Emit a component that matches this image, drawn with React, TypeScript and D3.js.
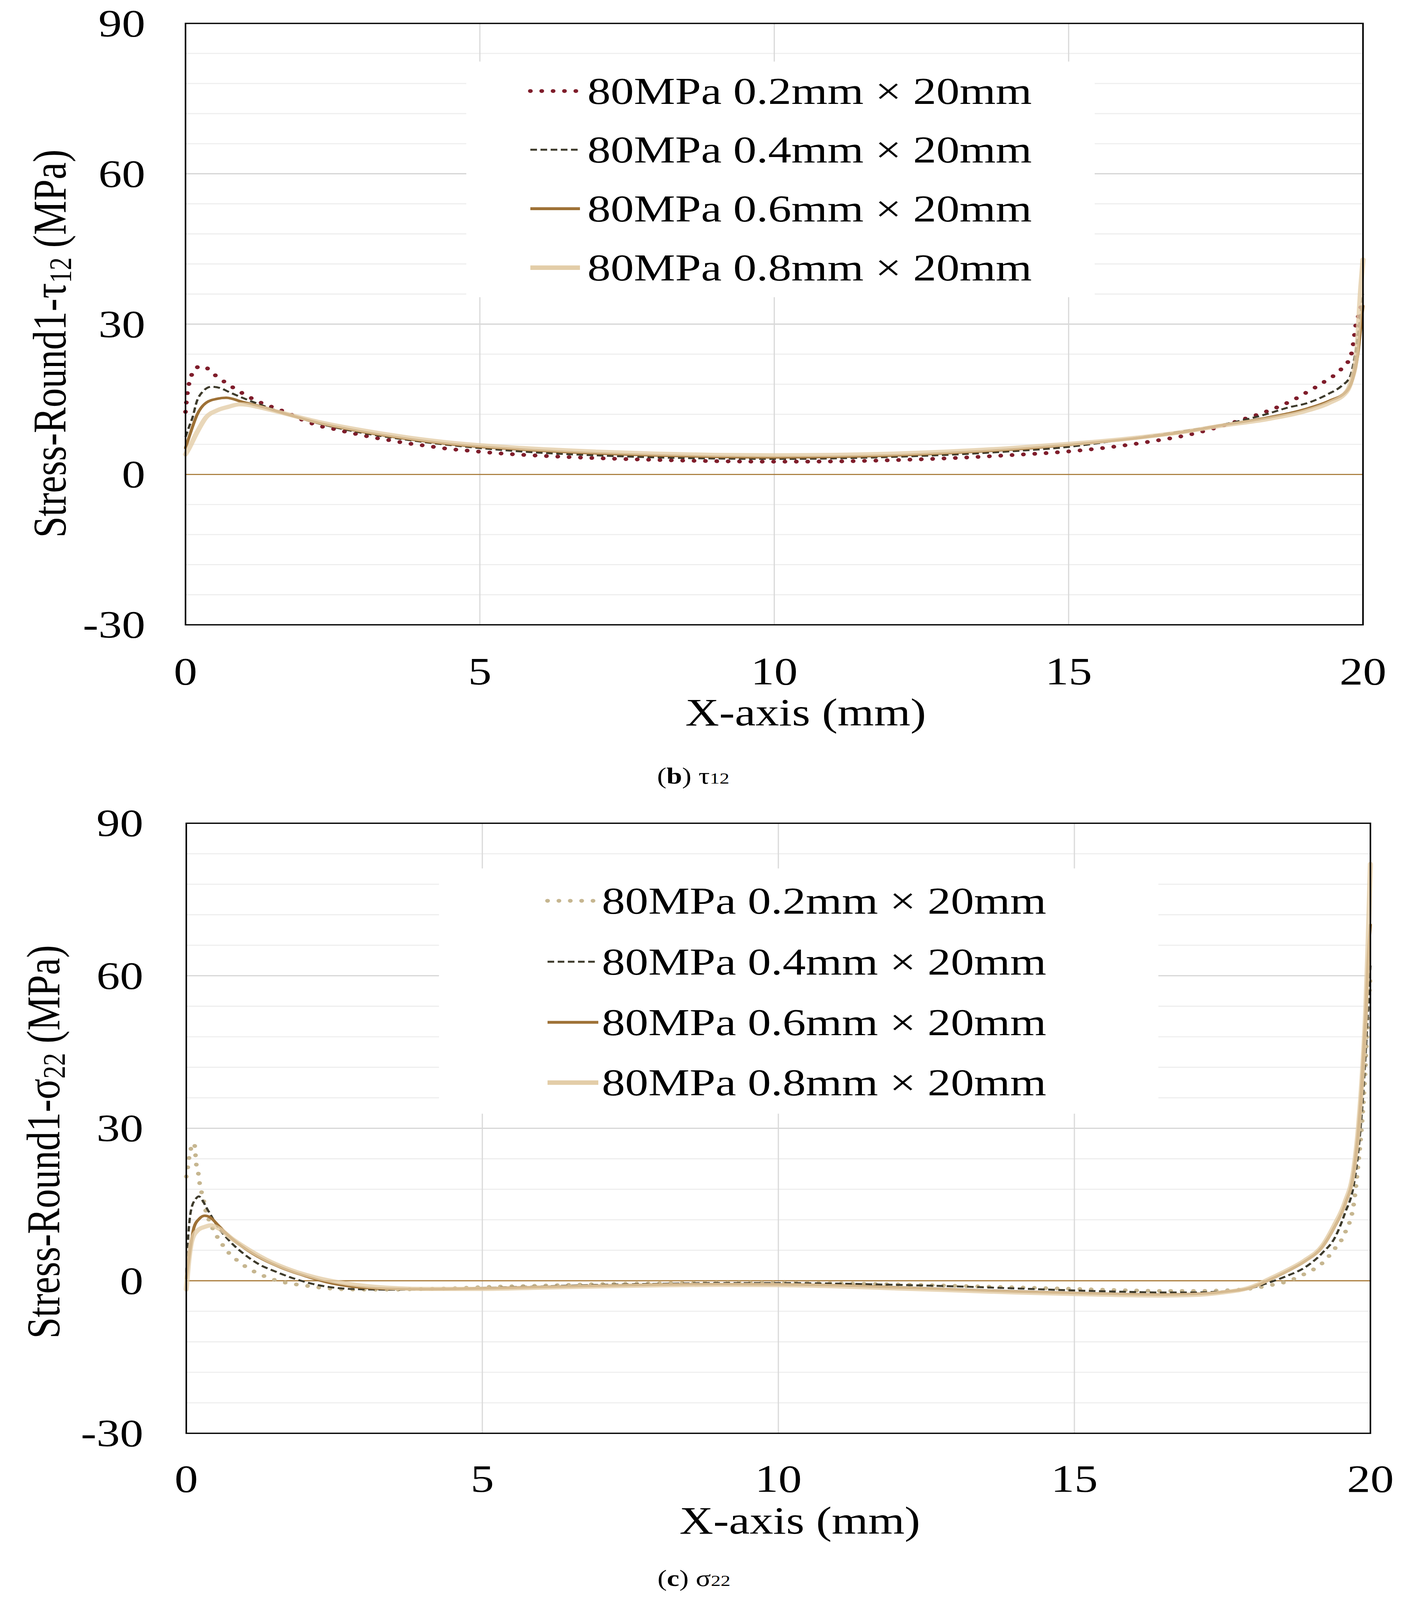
import React from 'react';
import * as d3 from 'd3';

type Pt = [number, number];

// ---------- Data: (b) tau12 ----------
const tau02: Pt[] = [
  [0, 12.5], [0.03, 16.0], [0.1, 19.7], [0.18, 21.3], [0.3, 21.6], [0.47, 20.1], [0.61, 18.9],
  [0.76, 17.7], [0.91, 16.6], [1.06, 15.6], [1.22, 14.6], [1.4, 13.8], [1.57, 13.0], [1.74, 12.3],
  [1.9, 11.3], [2.08, 10.5], [2.23, 9.8], [2.43, 9.3], [2.62, 8.8], [2.8, 8.3], [2.98, 7.9],
  [3.17, 7.4], [3.36, 7.05], [3.72, 6.3], [4.1, 5.7], [4.47, 5.1], [4.85, 4.7], [5.23, 4.3],
  [6, 3.75], [7, 3.25], [8, 2.9], [9, 2.65], [10, 2.55], [11, 2.6], [12, 2.85], [13, 3.25],
  [14, 3.85], [14.9, 4.5], [15.64, 5.35], [16.38, 6.55], [17.11, 8.1], [17.83, 10.5],
  [18.54, 13.4], [18.87, 15.2], [19.03, 16.3], [19.18, 17.3], [19.33, 18.4], [19.48, 19.5],
  [19.62, 20.9], [19.73, 22.2], [19.8, 23.9], [19.83, 25.7], [19.85, 27.4], [19.87, 29.3],
  [19.91, 31.1], [19.95, 32.9], [20, 34.7],
];
const tau04: Pt[] = [
  [0, 7.5], [0.06, 9.5], [0.12, 11.4], [0.19, 14.5], [0.29, 16.5], [0.44, 17.5], [0.6, 17.2],
  [0.73, 16.5], [1.03, 15.0], [1.3, 13.8], [1.7, 12.1], [2.25, 10.2], [3, 8.3], [3.77, 6.9],
  [4.54, 5.8], [5.2, 5.05], [6, 4.35], [7, 3.8], [8, 3.4], [9, 3.18], [10, 3.1], [11, 3.2],
  [12, 3.5], [13, 3.95], [14, 4.6], [15, 5.5], [15.9, 6.9], [16.76, 8.3], [17.64, 10.0],
  [18.38, 12.1], [18.71, 13.3], [19.07, 14.3], [19.4, 16.0], [19.64, 17.7], [19.78, 19.5],
  [19.88, 25], [19.95, 31], [20, 36],
];
const tau06: Pt[] = [
  [0, 5.3], [0.09, 8.5], [0.2, 12.0], [0.35, 14.3], [0.54, 15.1], [0.69, 15.3], [0.96, 14.5],
  [1.3, 13.5], [1.7, 12.1], [2.25, 10.3], [3.01, 8.5], [3.77, 7.1], [4.54, 6.0], [5.68, 5.0],
  [7, 4.2], [8, 3.8], [9, 3.52], [10, 3.42], [11, 3.52], [12, 3.8], [13, 4.3], [14, 4.95],
  [14.76, 5.65], [15.48, 6.4], [16.2, 7.3], [16.92, 8.4], [17.64, 9.9], [18.36, 11.3],
  [19.07, 13.2], [19.43, 14.7], [19.72, 16.6], [19.82, 18.9], [19.91, 23.8], [19.97, 30.3],
  [20, 33.6],
];
const tau08: Pt[] = [
  [0, 4.0], [0.04, 4.8], [0.2, 8.5], [0.35, 11.4], [0.54, 12.8], [0.73, 13.5], [0.92, 14.0],
  [1.05, 13.9], [1.22, 13.5], [1.57, 12.5], [2.25, 10.5], [3.01, 8.8], [3.77, 7.4], [4.54, 6.3],
  [5.68, 5.3], [7, 4.55], [8, 4.15], [9, 3.9], [10, 3.82], [11, 3.9], [12, 4.15], [13, 4.6],
  [14, 5.25], [14.76, 5.9], [15.48, 6.55], [16.2, 7.4], [16.92, 8.45], [17.64, 9.8],
  [18.36, 11.0], [19.07, 12.8], [19.43, 14.3], [19.72, 16.5], [19.8, 18.6], [19.89, 23.8],
  [19.96, 36.9], [20, 42.9],
];

// ---------- Data: (c) sigma22 ----------
const sig02: Pt[] = [
  [0, 20.5], [0.018, 21.6], [0.036, 23.4], [0.066, 25.2], [0.1, 27.0], [0.137, 26.9],
  [0.153, 25.1], [0.166, 23.2], [0.2, 21.4], [0.22, 19.6], [0.25, 17.8], [0.29, 16.0],
  [0.32, 14.2], [0.4, 11.5], [0.5, 9.1], [0.59, 7.45], [0.69, 5.85], [0.81, 4.5], [0.95, 3.2],
  [1.1, 2.1], [1.26, 1.2], [1.43, 0.4], [1.61, -0.2], [1.79, -0.6], [1.98, -0.9], [2.16, -1.2],
  [2.35, -1.45], [2.54, -1.6], [2.73, -1.7], [3.12, -1.75], [3.49, -1.75], [3.87, -1.65],
  [4.44, -1.5], [5, -1.25], [6, -0.95], [7, -0.65], [8, -0.5], [9, -0.4], [10, -0.4],
  [11, -0.5], [12, -0.7], [13, -1.0], [14, -1.3], [15, -1.6], [16, -1.9], [16.5, -2.0],
  [17, -2.0], [17.5, -1.9], [18, -1.5], [18.3, -0.9], [18.6, -0.1], [18.89, 1.35],
  [19.19, 3.5], [19.39, 6.2], [19.57, 9.4], [19.72, 15.2], [19.8, 23.6], [19.86, 31.3],
  [19.92, 42.9], [19.96, 52.5], [20, 60],
];
const sig04: Pt[] = [
  [0, 1.5], [0.04, 9.9], [0.086, 14.2], [0.16, 16.1], [0.21, 16.6], [0.28, 15.7], [0.34, 14.4],
  [0.41, 13.0], [0.54, 10.5], [0.72, 7.96], [0.96, 5.4], [1.22, 3.3], [1.51, 1.8], [1.84, 0.36],
  [2.19, -0.76], [2.6, -1.47], [3.05, -1.7], [3.5, -1.75], [4, -1.7], [5, -1.4], [6, -1.1],
  [7, -0.8], [8, -0.6], [9, -0.45], [10, -0.45], [11, -0.55], [12, -0.8], [13, -1.1],
  [14, -1.5], [15, -1.9], [16, -2.2], [16.5, -2.3], [17, -2.3], [17.5, -2.1], [18, -1.4],
  [18.3, -0.3], [18.6, 1.0], [18.89, 2.6], [19.19, 5.5], [19.4, 8.5], [19.57, 13.3],
  [19.72, 19], [19.8, 26], [19.86, 34], [19.92, 45], [20, 62],
];
const sig06: Pt[] = [
  [0, 0.5], [0.07, 6.6], [0.13, 10.5], [0.22, 12.2], [0.31, 12.8], [0.4, 12.5], [0.54, 10.9],
  [0.72, 8.8], [0.96, 6.6], [1.28, 4.3], [1.6, 2.6], [2.02, 0.9], [2.46, -0.5], [2.9, -1.27],
  [3.49, -1.6], [4, -1.65], [5, -1.5], [6, -1.2], [7, -0.95], [8, -0.75], [9, -0.65],
  [10, -0.7], [11, -0.9], [12, -1.3], [13, -1.7], [14, -2.1], [15, -2.4], [16, -2.65],
  [16.5, -2.7], [17, -2.6], [17.5, -2.2], [18, -1.3], [18.3, 0.2], [18.6, 1.9], [18.89, 3.8],
  [19.19, 6.7], [19.39, 10.5], [19.57, 15], [19.72, 21.5], [19.8, 30], [19.86, 39.5],
  [19.92, 52], [19.96, 63], [20, 70],
];
const sig08: Pt[] = [
  [0, -1.7], [0.04, 3.7], [0.096, 8.0], [0.19, 9.9], [0.31, 10.6], [0.42, 10.9], [0.54, 10.35],
  [0.78, 8.2], [1.07, 6.0], [1.43, 3.7], [1.78, 2.05], [2.19, 0.64], [2.6, -0.34], [3.19, -1.19],
  [4.08, -1.6], [5, -1.6], [6, -1.35], [7, -1.1], [8, -0.9], [9, -0.8], [10, -0.85], [11, -1.1],
  [12, -1.5], [13, -1.9], [14, -2.3], [15, -2.6], [16, -2.85], [16.5, -2.9], [17, -2.8],
  [17.5, -2.3], [18, -1.2], [18.3, 0.4], [18.6, 2.1], [18.89, 4.0], [19.19, 6.9], [19.39, 10.9],
  [19.57, 15.4], [19.72, 22], [19.8, 30.5], [19.86, 40], [19.92, 53], [19.96, 66], [20, 82],
];

const legendLabels = [
  '80MPa 0.2mm × 20mm',
  '80MPa 0.4mm × 20mm',
  '80MPa 0.6mm × 20mm',
  '80MPa 0.8mm × 20mm',
];
const xTicks = [0, 5, 10, 15, 20];
const yTicks = [-30, 0, 30, 60, 90];
const xDomain: [number, number] = [0, 20];
const yDomain: [number, number] = [-30, 90];

// ---------- Styles ----------
type Style = { color: string; width: number; dash?: string; cap?: 'round' | 'butt'; opacity?: number };
const DOT = '0.1 29';
const DASH = '17 9';
const tauStyles: Style[] = [
  { color: '#7f1d2b', width: 12, dash: DOT, cap: 'round' },
  { color: '#3d3a2b', width: 6, dash: DASH, cap: 'butt' },
  { color: '#9e7136', width: 8 },
  { color: '#e3cda8', width: 13, opacity: 0.8 },
];
const sigStyles: Style[] = [
  { color: '#c6b690', width: 12, dash: DOT, cap: 'round' },
  { color: '#3d3a2b', width: 6, dash: DASH, cap: 'butt' },
  { color: '#9e7136', width: 8 },
  { color: '#e3cda8', width: 13, opacity: 0.8 },
];

const FONT = "'Liberation Serif', 'Times New Roman', serif";

type Layout = {
  left: number; right: number; top: number; bottom: number;
  lg: { x0: number; x1: number; y0: number; y1: number; s0: number; s1: number; tx: number; rows: number[] };
  yTitle: [number, number]; xTitle: [number, number]; tickY: number; yTickX: number;
  caption: [number, number];
};

const topLayout: Layout = {
  left: 475, right: 3490, top: 73, bottom: 1949,
  lg: { x0: 1194, x1: 2803, y0: 192, y1: 927, s0: 1358, s1: 1485, tx: 1504, rows: [284, 467, 651, 835] },
  yTitle: [168, 1072], xTitle: [2063, 2263], tickY: 2135, yTickX: 372, caption: [1775, 2444],
};
const bottomLayout: Layout = {
  left: 477, right: 3509, top: 2568, bottom: 4471,
  lg: { x0: 1124, x1: 2966, y0: 2709, y1: 3474, s0: 1402, s1: 1532, tx: 1541, rows: [2810, 3000, 3189, 3377] },
  yTitle: [152, 3562], xTitle: [2048, 4784], tickY: 4654, yTickX: 367, caption: [1777, 4947],
};

function Panel({ L, series, styles, sym, sub, letter }: { L: Layout; series: Pt[][]; styles: Style[]; sym: string; sub: string; letter: string }) {
  const x = d3.scaleLinear().domain(xDomain).range([L.left, L.right]);
  const y = d3.scaleLinear().domain(yDomain).range([L.bottom, L.top]);
  const line = d3.line<Pt>().x((d) => x(d[0])).y((d) => y(d[1])).curve(d3.curveMonotoneX);
  const minor = d3.range(yDomain[0], yDomain[1] + 0.001, 6).filter((v) => v % 30 !== 0);
  const major = yTicks.filter((v) => v > yDomain[0] && v < yDomain[1] && v !== 0);
  const vgrid = xTicks.filter((v) => v > xDomain[0] && v < xDomain[1]);
  const fs = 120;
  return (
    <g fontFamily={FONT}>
      {minor.map((v) => (
        <line key={'mn' + v} x1={L.left} x2={L.right} y1={y(v)} y2={y(v)} stroke="#eeeeee" strokeWidth={3.5} />
      ))}
      {major.map((v) => (
        <line key={'mj' + v} x1={L.left} x2={L.right} y1={y(v)} y2={y(v)} stroke="#d3d3d3" strokeWidth={3.5} />
      ))}
      {vgrid.map((v) => (
        <line key={'vg' + v} x1={x(v)} x2={x(v)} y1={L.top} y2={L.bottom} stroke="#d9d9d9" strokeWidth={3} />
      ))}
      <rect x={L.lg.x0} y={L.lg.y0} width={L.lg.x1 - L.lg.x0} height={L.lg.y1 - L.lg.y0} fill="#ffffff" />
      <line x1={L.left} x2={L.right} y1={y(0)} y2={y(0)} stroke="#a87a38" strokeWidth={3.5} />
      {series.map((s, i) => {
        const st = styles[i];
        return (
          <path
            key={'s' + i}
            d={line(s) || ''}
            fill="none"
            stroke={st.color}
            strokeWidth={st.width}
            strokeDasharray={st.dash}
            strokeLinecap={st.cap || 'round'}
            strokeLinejoin="round"
            strokeOpacity={st.opacity ?? 1}
          />
        );
      })}
      <rect x={L.left} y={L.top} width={L.right - L.left} height={L.bottom - L.top} fill="none" stroke="#000" strokeWidth={4} />
      {yTicks.map((v) => (
        <text key={'yt' + v} x={L.yTickX} y={y(v) + 40} textAnchor="end" fontSize={fs} fill="#000">
          {String(v)}
        </text>
      ))}
      {xTicks.map((v) => (
        <text key={'xt' + v} x={x(v)} y={L.tickY} textAnchor="middle" fontSize={fs} fill="#000">
          {String(v)}
        </text>
      ))}
      <text x={L.xTitle[0]} y={L.xTitle[1]} textAnchor="middle" fontSize={fs} fill="#000">
        X-axis (mm)
      </text>
      <text
        transform={`translate(${L.yTitle[0]},${L.yTitle[1]}) rotate(-90)`}
        textAnchor="middle"
        fontSize={fs}
        fill="#000"
      >
        {'Stress-Round1-' + sym}
        <tspan dy={14} fontSize={80}>{sub}</tspan>
        <tspan dy={-14}> (MPa)</tspan>
      </text>
      {legendLabels.map((lab, i) => {
        const st = styles[i];
        const cy = L.lg.rows[i];
        return (
          <g key={'lg' + i}>
            <line
              x1={L.lg.s0}
              x2={L.lg.s1}
              y1={cy}
              y2={cy}
              stroke={st.color}
              strokeWidth={st.dash ? st.width : st.width + 1}
              strokeDasharray={st.dash}
              strokeLinecap={st.cap || 'butt'}
            />
            <text x={L.lg.tx} y={cy + 40} fontSize={119} fill="#000">
              {lab}
            </text>
          </g>
        );
      })}
      <text x={L.caption[0]} y={L.caption[1]} textAnchor="middle" fontSize={72} fill="#000">
        (<tspan fontWeight="bold">{letter}</tspan>) {sym}
        <tspan fontSize={50}>{sub}</tspan>
      </text>
    </g>
  );
}

export default function App() {
  // The page viewport may be shorter than the reference; the full 3595x4991 layout
  // is mapped onto whatever viewport is available.
  return (
    <svg
      viewBox="0 0 3595 4991"
      preserveAspectRatio="none"
      style={{ position: 'absolute', left: 0, top: 0, width: '100vw', height: '100vh', background: '#fff', display: 'block' }}
    >
      <rect x={0} y={0} width={3595} height={4991} fill="#ffffff" />
      <Panel L={topLayout} series={[tau02, tau04, tau06, tau08]} styles={tauStyles} sym="τ" sub="12" letter="b" />
      <Panel L={bottomLayout} series={[sig02, sig04, sig06, sig08]} styles={sigStyles} sym="σ" sub="22" letter="c" />
    </svg>
  );
}
